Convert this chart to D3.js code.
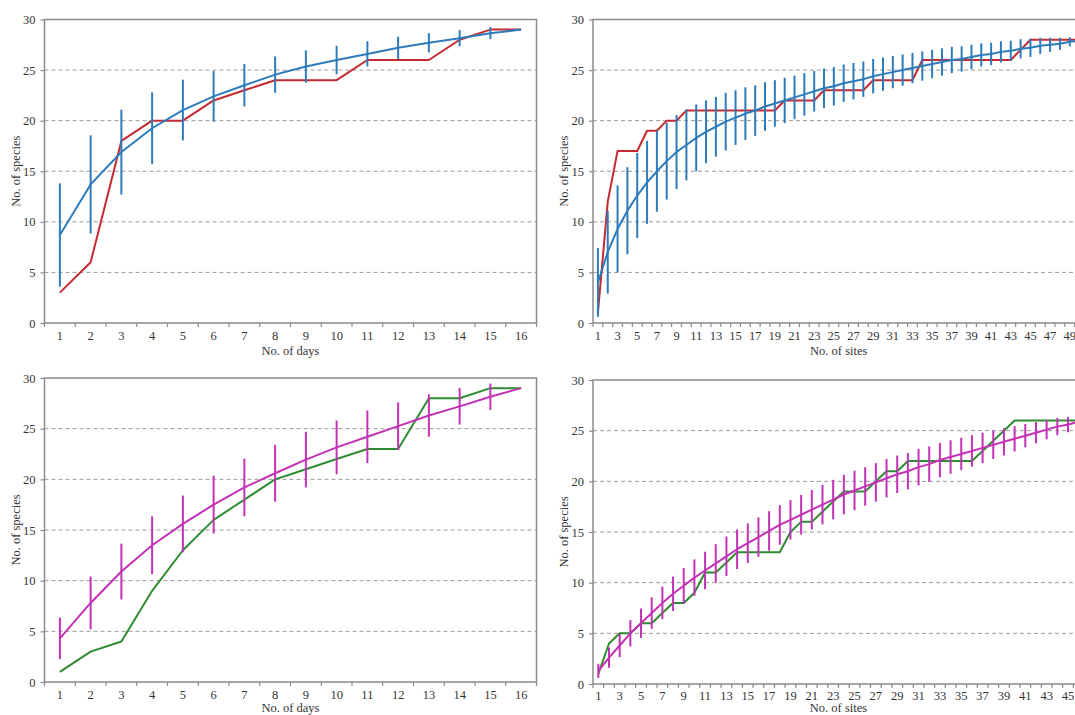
<!DOCTYPE html>
<html>
<head>
<meta charset="utf-8">
<title>Species accumulation curves</title>
<script src="https://d3js.org/d3.v7.min.js"></script>
<style>
body { margin: 0; background: #fff; }
svg { display: block; }
svg text { font-family: "Liberation Serif", "Times New Roman", Times, serif; }
.grid line { stroke: #9a9a9a; stroke-width: 1; stroke-dasharray: 4,3; }
.frame { fill: none; stroke: #8a8a8a; stroke-width: 1.5; }
.axis text { font-size: 12.5px; fill: #333; }
.axis line { stroke: #8a8a8a; stroke-width: 1.2; }
.title { font-size: 12.5px; fill: #333; }
</style>
</head>
<body>
<script>

// categories
var days = d3.range(1, 17);
var sitesA = d3.range(1, 51);
var sitesB = d3.range(1, 47);
var yTicks = [0, 5, 10, 15, 20, 25, 30];

// top left: days, observed (red) and randomised mean (blue) +- error
var obsDaysA  = [3, 6, 18, 20, 20, 22, 23, 24, 24, 24, 26, 26, 26, 28, 29, 29];
var meanDaysA = [8.7, 13.7, 16.9, 19.25, 21.05, 22.4, 23.5, 24.55, 25.35, 26.0, 26.6, 27.2, 27.7, 28.15, 28.65, 29.0];
var errDaysA  = [5.1, 4.85, 4.2, 3.55, 3.0, 2.5, 2.1, 1.8, 1.6, 1.4, 1.25, 1.1, 0.95, 0.8, 0.6, 0];

// top right: sites
var obsSitesA = [1, 12, 17, 17, 17, 19, 19, 20, 20, 21,
                 21, 21, 21, 21, 21, 21, 21, 21, 21, 22,
                 22, 22, 22, 23, 23, 23, 23, 23, 24, 24,
                 24, 24, 24, 26, 26, 26, 26, 26, 26, 26,
                 26, 26, 26, 27, 28, 28, 28, 28, 28, 28];
var meanSitesA = [4.0, 7.0, 9.3, 11.1, 12.6, 13.9, 15.0, 16.0, 16.9, 17.6,
                  18.3, 18.9, 19.4, 19.9, 20.3, 20.7, 21.0, 21.4, 21.7, 22.0,
                  22.3, 22.6, 22.9, 23.2, 23.4, 23.7, 23.9, 24.1, 24.4, 24.6,
                  24.8, 25.0, 25.2, 25.4, 25.6, 25.8, 26.0, 26.1, 26.3, 26.5,
                  26.6, 26.8, 26.9, 27.1, 27.2, 27.4, 27.5, 27.6, 27.8, 27.9];
var errSitesA = [3.4, 4.1, 4.3, 4.3, 4.2, 4.1, 4.0, 3.8, 3.65, 3.5,
                 3.3, 3.1, 2.95, 2.85, 2.7, 2.6, 2.5, 2.4, 2.3, 2.25,
                 2.15, 2.1, 2.0, 1.95, 1.9, 1.85, 1.8, 1.75, 1.7, 1.65,
                 1.6, 1.55, 1.5, 1.45, 1.4, 1.35, 1.3, 1.25, 1.2, 1.15,
                 1.1, 1.05, 1.0, 0.95, 0.9, 0.8, 0.7, 0.6, 0.45, 0.3];

// bottom left: days, observed (green) and mean (magenta)
var obsDaysB  = [1, 3, 4, 9, 13, 16, 18, 20, 21, 22, 23, 23, 28, 28, 29, 29];
var meanDaysB = [4.3, 7.8, 10.9, 13.5, 15.6, 17.5, 19.2, 20.6, 21.95, 23.15, 24.2, 25.25, 26.3, 27.2, 28.15, 29.0];
var errDaysB  = [2.05, 2.6, 2.75, 2.85, 2.8, 2.85, 2.85, 2.8, 2.75, 2.65, 2.6, 2.35, 2.1, 1.8, 1.3, 0];

// bottom right: sites
var obsSitesB = [1, 4, 5, 5, 6, 6, 7, 8, 8, 9,
                 11, 11, 12, 13, 13, 13, 13, 13, 15, 16,
                 16, 17, 18, 19, 19, 19, 20, 21, 21, 22,
                 22, 22, 22, 22, 22, 22, 23, 24, 25, 26,
                 26, 26, 26, 26, 26, 26];
var meanSitesB = [1.3, 2.6, 3.8, 5.0, 6.0, 7.0, 8.0, 8.9, 9.7, 10.5,
                  11.2, 11.9, 12.6, 13.3, 13.9, 14.5, 15.1, 15.7, 16.2, 16.7,
                  17.2, 17.7, 18.2, 18.7, 19.1, 19.5, 19.9, 20.3, 20.7, 21.0,
                  21.4, 21.7, 22.1, 22.4, 22.7, 23.0, 23.3, 23.6, 23.9, 24.2,
                  24.5, 24.8, 25.1, 25.4, 25.6, 25.9];
var errSitesB = [0.7, 1.0, 1.15, 1.3, 1.45, 1.55, 1.6, 1.7, 1.75, 1.8,
                 1.85, 1.9, 1.95, 1.95, 1.95, 1.95, 1.95, 1.95, 1.95, 1.95,
                 1.95, 1.95, 1.95, 1.95, 1.95, 1.9, 1.9, 1.9, 1.85, 1.8,
                 1.8, 1.75, 1.7, 1.65, 1.6, 1.55, 1.5, 1.4, 1.35, 1.25,
                 1.15, 1.05, 0.95, 0.85, 0.75, 0.6];

var red = "#c42a30", blue = "#2c7bbb", magenta = "#c331b5", green = "#2f8b31";
var serif = "'Liberation Serif', 'Times New Roman', Times, serif";

var panels = [
  {left: 44.5, top: 19.5, width: 492, height: 303.5, cats: days, obs: obsDaysA, mean: meanDaysA, err: errDaysA,
   obsColor: red, meanColor: blue, xTitle: "No. of days", every: 1, pad: 8, titleGap: 32},
  {left: 593, top: 19.5, width: 491.5, height: 303.5, cats: sitesA, obs: obsSitesA, mean: meanSitesA, err: errSitesA,
   obsColor: red, meanColor: blue, xTitle: "No. of sites", every: 2, pad: 8, titleGap: 32},
  {left: 44.5, top: 378, width: 492, height: 304, cats: days, obs: obsDaysB, mean: meanDaysB, err: errDaysB,
   obsColor: green, meanColor: magenta, xTitle: "No. of days", every: 1, pad: 8, titleGap: 30},
  {left: 593, top: 380, width: 491, height: 304, cats: sitesB, obs: obsSitesB, mean: meanSitesB, err: errSitesB,
   obsColor: green, meanColor: magenta, xTitle: "No. of sites", every: 2, pad: 7, titleGap: 28}
];

var svg = d3.select("body").append("svg")
    .attr("width", 1075)
    .attr("height", 715);

panels.forEach(function(p) {
  var g = svg.append("g").attr("transform", "translate(" + p.left + "," + p.top + ")");

  var x = d3.scaleBand().domain(p.cats).range([0, p.width]).padding(0);
  var y = d3.scaleLinear().domain([0, 30]).range([p.height, 0]);
  var cx = function(d) { return x(d) + x.bandwidth() / 2; };

  // dashed gridlines
  g.append("g").attr("class", "grid")
    .selectAll("line")
    .data(yTicks.filter(function(t) { return t > 0 && t < 30; }))
    .join("line")
      .attr("x1", 0).attr("x2", p.width)
      .attr("y1", function(d) { return y(d); })
      .attr("y2", function(d) { return y(d); });

  // frame round the plot area
  g.append("rect").attr("class", "frame")
    .attr("width", p.width).attr("height", p.height);

  // y axis
  var ya = g.append("g").attr("class", "axis")
    .call(d3.axisLeft(y).tickValues(yTicks).tickSize(4).tickPadding(5));
  ya.select(".domain").remove();
  ya.attr("font-family", serif).attr("font-size", 12.5);

  // x axis labels (centred in bands)
  var xa = g.append("g").attr("class", "axis")
    .attr("transform", "translate(0," + p.height + ")")
    .call(d3.axisBottom(x)
      .tickValues(p.cats.filter(function(d, i) { return i % p.every === 0; }))
      .tickSize(0).tickPadding(p.pad));
  xa.select(".domain").remove();
  xa.attr("font-family", serif).attr("font-size", 12.5);

  // x tick marks at band boundaries
  g.append("g").attr("class", "axis")
    .selectAll("line")
    .data(d3.range(p.cats.length + 1))
    .join("line")
      .attr("x1", function(i) { return i * x.step(); })
      .attr("x2", function(i) { return i * x.step(); })
      .attr("y1", p.height).attr("y2", p.height + 4);

  var rows = p.cats.map(function(c, i) {
    return {c: c, obs: p.obs[i], mean: p.mean[i], err: p.err[i]};
  });

  // observed curve
  g.append("path")
    .datum(rows)
    .attr("fill", "none")
    .attr("stroke", p.obsColor)
    .attr("stroke-width", 2)
    .attr("stroke-linejoin", "round")
    .attr("d", d3.line().x(function(d) { return cx(d.c); }).y(function(d) { return y(d.obs); }));

  // error bars of the randomised mean
  g.append("g")
    .selectAll("line")
    .data(rows.filter(function(d) { return d.err > 0; }))
    .join("line")
      .attr("x1", function(d) { return cx(d.c); })
      .attr("x2", function(d) { return cx(d.c); })
      .attr("y1", function(d) { return y(d.mean - d.err); })
      .attr("y2", function(d) { return y(d.mean + d.err); })
      .attr("stroke", p.meanColor)
      .attr("stroke-width", 2);

  // randomised mean curve
  g.append("path")
    .datum(rows)
    .attr("fill", "none")
    .attr("stroke", p.meanColor)
    .attr("stroke-width", 2)
    .attr("stroke-linejoin", "round")
    .attr("d", d3.line().x(function(d) { return cx(d.c); }).y(function(d) { return y(d.mean); }));

  // axis titles
  g.append("text").attr("class", "title")
    .attr("font-family", serif)
    .attr("x", p.width / 2).attr("y", p.height + p.titleGap)
    .attr("text-anchor", "middle")
    .text(p.xTitle);

  g.append("text").attr("class", "title")
    .attr("font-family", serif)
    .attr("transform", "translate(-25," + (p.height / 2) + ") rotate(-90)")
    .attr("text-anchor", "middle")
    .text("No. of species");
});

</script>
</body>
</html>
